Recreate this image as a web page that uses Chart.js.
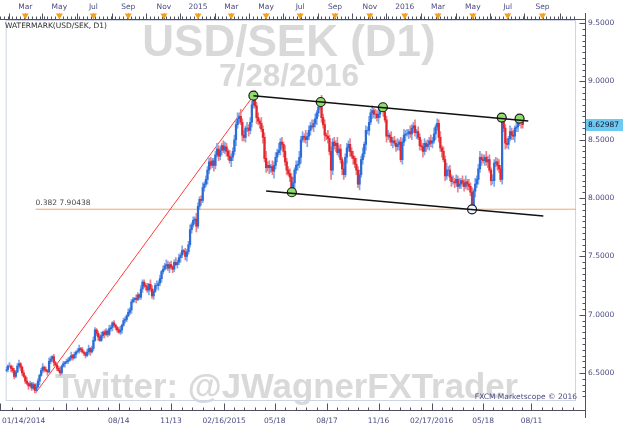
<!DOCTYPE html>
<html><head><meta charset="utf-8">
<script src="https://cdn.jsdelivr.net/npm/chart.js@4.4.1/dist/chart.umd.min.js"></script>
<style>html,body{margin:0;padding:0;background:#fff;overflow:hidden}canvas{display:block}</style>
</head><body>
<canvas id="c" width="624" height="428"></canvas>
<script>
// ---- texts ----
const title = 'USD/SEK (D1)';
const dateStamp = '7/28/2016';
const indicatorLabel = 'WATERMARK(USD/SEK, D1)';
const credit = 'Twitter: @JWagnerFXTrader';
const footer = 'FXCM Marketscope \u00A9 2016';

// ---- price data: trading-day index (0 = 1 Jan 2014), one candle per 2 trading days ----
const firstDay = 19, dayStep = 2, firstOpen = 6.52;
const closes = [
 6.53,6.56,6.56,6.54,6.52,6.47,6.51,6.56,6.58,6.55,
 6.50,6.47,6.43,6.41,6.39,6.41,6.37,6.40,6.35,6.38,
 6.43,6.48,6.52,6.55,6.53,6.52,6.51,6.60,6.62,6.64,
 6.59,6.57,6.54,6.52,6.50,6.56,6.58,6.59,6.60,6.61,
 6.63,6.65,6.63,6.66,6.68,6.69,6.71,6.70,6.68,6.67,
 6.65,6.68,6.71,6.68,6.71,6.78,6.87,6.84,6.81,6.78,
 6.82,6.85,6.83,6.86,6.83,6.88,6.89,6.93,6.91,6.89,
 6.87,6.85,6.87,6.91,6.95,6.96,6.99,7.02,7.04,7.11,
 7.13,7.14,7.13,7.17,7.15,7.22,7.28,7.25,
 7.24,7.21,7.26,7.22,7.16,7.20,7.25,7.25,7.27,7.31,
 7.37,7.39,7.42,7.43,7.40,7.43,7.41,7.39,7.45,7.43,
 7.45,7.49,7.51,7.55,7.54,7.50,7.54,7.60,7.73,7.77,
 7.81,7.82,7.76,7.93,7.99,7.98,8.09,8.12,8.16,8.24,
 8.31,8.28,8.32,8.28,8.37,8.42,8.36,8.41,8.45,8.41,
 8.44,8.40,8.36,8.32,8.35,8.40,
 8.50,8.63,8.68,8.70,8.65,8.54,8.52,8.60,8.60,8.58,
 8.65,8.80,8.87,8.79,8.69,8.66,8.64,8.59,8.52,8.34,
 8.26,8.28,8.26,8.27,8.23,8.28,8.35,8.39,8.41,8.48,
 8.46,8.40,8.31,8.24,8.21,8.18,8.07,8.13,8.24,8.28,
 8.29,8.35,8.50,8.53,8.52,8.50,8.53,8.58,8.62,8.61,
 8.64,8.68,8.73,8.78,8.83,8.69,8.63,8.54,8.53,8.51,
 8.40,8.24,8.48,
 8.45,8.47,8.39,8.42,8.33,8.25,8.20,8.35,8.43,8.46,
 8.40,8.36,8.34,8.29,8.24,8.12,8.20,8.33,8.38,8.46,
 8.58,8.58,8.65,8.73,8.75,8.72,8.72,8.69,8.72,8.78,
 8.78,8.74,8.67,8.53,8.54,8.52,8.48,8.49,8.47,8.44,
 8.46,8.48,8.33,8.48,8.54,8.55,8.55,8.57,8.55,8.60,
 8.62,8.56,8.57,8.52,8.45,8.44,8.40,8.47,8.44,8.46,
 8.49,8.47,
 8.49,8.55,8.61,8.64,8.52,8.43,8.40,8.33,8.19,8.24,
 8.24,8.18,8.14,8.14,8.13,8.16,8.10,8.12,8.15,8.13,
 8.10,8.14,8.12,8.10,8.05,7.92,8.06,8.12,8.16,8.25,
 8.35,8.33,8.32,8.35,8.31,8.33,8.24,8.15,8.15,8.30,
 8.31,8.28,8.25,8.16,8.67,8.60,8.47,8.46,8.51,8.57,
 8.54,8.53,8.60,8.61,8.65,8.68,8.65,8.62987
];
// wick lengths above / below each candle body, in hundredths of a krona
const upperWick = [
 2,1,3,1,2,2,1,2,3,1, 1,2,1,3,1,2,1,2,1,3, 2,1,2,3,1,2,1,3,2,1, 2,1,1,2,3,1,2,1,2,2,
 1,3,1,2,1,2,3,1,2,1, 1,2,3,1,2,3,2,1,2,2, 3,1,2,2,1,3,2,1,2,1, 1,2,3,1,2,2,1,3,2,2,
 2,1,3,2,1,3,2,2,
 2,3,1,4,3,2,2,4,2,3, 1,3,2,4,3,2,3,1,2,4, 2,3,2,4,1,3,2,3,4,2, 3,2,5,3,2,3,4,2,3,3,
 3,4,2,2,3,5,3,3,2,4, 4,3,2,5,3,3,
 4,3,5,3,6,3,4,2,5,3, 4,3,1,5,3,4,2,5,3,4, 6,3,4,2,5,3,4,3,6,3, 4,2,5,3,3,4,3,5,2,4,
 3,5,3,4,2,6,3,4,3,5, 3,4,2,3,1,5,3,4,2,5, 3,4,3,
 4,2,5,3,4,2,6,3,4,3, 5,3,4,2,5,3,4,3,5,2, 4,3,5,3,4,2,4,3,5,2, 2,3,5,3,4,2,5,3,4,3,
 5,2,4,3,5,3,4,2,5,3, 3,5,2,4,3,5,3,4,2,4, 3,5,
 3,5,2,4,3,5,2,4,3,6, 3,4,2,5,3,4,3,5,2,4, 3,5,2,4,3,4,2,5,3,4, 5,3,4,2,5,3,4,2,5,3,
 4,3,5,3,3,5,3,4,2,5, 3,4,2,5,3,2,3,3
];
const lowerWick = [
 1,2,1,3,2,2,1,1,2,3, 2,1,2,1,3,1,2,1,2,1, 1,3,1,2,2,1,3,1,2,2, 3,1,2,1,2,1,1,3,1,2,
 1,2,2,1,3,1,2,2,1,2, 2,1,2,3,1,2,1,2,3,1, 1,2,3,1,2,1,2,3,1,2, 2,1,2,3,1,2,2,1,2,3,
 1,2,3,1,2,2,3,2,
 3,2,4,2,2,3,1,3,4,2, 3,2,1,3,2,4,2,3,2,1, 3,2,4,2,2,3,4,2,2,3, 2,3,5,2,3,4,2,3,2,4,
 3,3,2,5,3,2,4,3,4,2, 3,4,3,2,5,3,
 3,5,3,4,2,5,3,4,3,5, 3,4,3,2,5,3,4,2,5,3, 4,3,5,4,3,6,3,4,2,4, 3,5,3,4,2,4,3,3,5,3,
 4,3,5,2,4,3,6,3,4,2, 4,3,5,3,2,4,3,5,3,4, 3,8,4,
 3,5,2,4,3,5,4,2,5,3, 4,2,5,3,4,3,5,2,4,3, 5,3,4,2,5,3,4,3,5,3, 3,4,2,5,3,4,3,5,2,4,
 3,5,2,4,3,5,2,4,3,5, 4,3,5,2,4,3,5,3,4,2, 5,3,
 4,2,5,3,4,3,5,2,4,3, 5,3,4,2,4,3,5,2,4,3, 4,2,5,3,3,2,3,5,3,4, 3,5,2,4,3,5,2,4,3,5,
 3,4,3,2,4,3,5,3,4,2, 4,3,5,3,4,3,5,3
];
const lastPrice = 8.62987;

// ---- axes ----
const monthStartDays = [0,23,43,64,86,108,129,152,173,195,218,238,261,283,303,325,347,368,390,413,434,456,478,499,522,543,564,587,608,630,652,673,696,718];
const topLabelDays = [43,86,129,173,218,261,303,347,390,434,478,522,564,608,652,696];
const topLabels = ['Mar','May','Jul','Sep','Nov','2015','Mar','May','Jul','Sep','Nov','2016','Mar','May','Jul','Sep'];
const bottomTickDays = [9,95,161,227,294,358,424,489,556,621,682];
const bottomLabels = ['01/14/2014','','08/14','11/13','02/16/2015','05/18','08/17','11/16','02/17/2016','05/18','08/11'];
const yTickValues = [6.5,7.0,7.5,8.0,8.5,9.0,9.5];
const xMin = 18.25, xMax = 738.25, yMin = 6.26, yMax = 9.527;

// ---- drawings ----
const fibRatio = '0.382', fibPrice = 7.90438, fibStartDay = 56;
const rallyDays = [56, 331], rallyPrices = [6.328, 8.878];
const upperDays = [331, 678], upperPrices = [8.878, 8.661];
const lowerDays = [347, 697], lowerPrices = [8.061, 7.846];
const topTouchDays = [331, 416, 494.5, 644.5, 667, 379.5];
const topTouchPrices = [8.878, 8.824, 8.779, 8.690, 8.681, 8.050];
const lowTouchDays = [607], lowTouchPrices = [7.904];

const BLUE = '#2b6cd8', RED = '#e3262d', BLUE_W = '#7ea8ec', RED_W = '#f07e83';
const AXIS_TXT = '#4b4b82', FONT = '"DejaVu Sans", Verdana, sans-serif';

const opens = closes.map((c, k) => k ? closes[k - 1] : firstOpen);
const bodies = closes.map((c, k) => ({ x: firstDay + dayStep * k, y: [opens[k], c] }));
const wicks = closes.map((c, k) => ({
  x: firstDay + dayStep * k,
  y: [Math.min(opens[k], c) - lowerWick[k] / 100, Math.max(opens[k], c) + upperWick[k] / 100],
  up: c >= opens[k]
}));
const pts = (d, p) => d.map((v, i) => ({ x: v, y: p[i] }));

const chrome = {
  id: 'chrome',
  beforeDatasetsDraw(chart) {
    const { ctx, chartArea: a } = chart;
    ctx.save();
    ctx.fillStyle = '#d9d9d9';
    ctx.textBaseline = 'alphabetic';
    ctx.textAlign = 'center';
    ctx.font = 'bold 44px "Liberation Sans", Arial, sans-serif';
    ctx.fillText(title, 289, 56);
    ctx.font = 'bold 31.5px "Liberation Sans", Arial, sans-serif';
    ctx.fillText(dateStamp, 289, 86);
    ctx.textAlign = 'left';
    ctx.font = 'bold 34.8px "Liberation Sans", Arial, sans-serif';
    ctx.fillText(credit, 55, 398);
    ctx.strokeStyle = '#cdd5e3'; ctx.lineWidth = 1;
    ctx.strokeRect(a.left + 0.5, a.top + 0.5, a.right - a.left - 1, a.bottom - a.top - 1);
    ctx.restore();
  },
  afterDraw(chart) {
    const { ctx, scales: { x, y } } = chart;
    ctx.save();
    ctx.strokeStyle = '#505060'; ctx.lineWidth = 1;
    const axX = 585.5, topY = 19.5, botY = 410.5;
    ctx.beginPath();
    // right axis
    ctx.moveTo(axX, 13); ctx.lineTo(axX, 418);
    for (let v = 6.3; v <= 9.52; v += 0.05) {
      const py = Math.round(y.getPixelForValue(v)) + 0.5;
      const major = Math.abs(v * 2 - Math.round(v * 2)) < 1e-6;
      ctx.moveTo(axX - (major ? 6 : 3), py); ctx.lineTo(axX, py);
    }
    // top axis
    ctx.moveTo(0, topY); ctx.lineTo(axX, topY);
    for (let d = 1; d < xMax; d += 5) {
      const px = Math.round(x.getPixelForValue(d)) + 0.5; if (px < 0) continue;
      ctx.moveTo(px, topY); ctx.lineTo(px, topY - 3);
    }
    monthStartDays.forEach(d => { const px = Math.round(x.getPixelForValue(d)) + 0.5; if (px < 0 || px > axX) return; ctx.moveTo(px, topY); ctx.lineTo(px, topY - 6); });
    // bottom axis
    ctx.moveTo(0, botY); ctx.lineTo(axX, botY);
    bottomTickDays.forEach((d, i) => {
      const px = Math.max(0.5, Math.round(x.getPixelForValue(d)) + 0.5);
      ctx.moveTo(px, botY); ctx.lineTo(px, botY - 7);
      const nd = bottomTickDays[i + 1] || d + 65;
      for (let j = 1; j < 5; j++) {
        const q = Math.round(x.getPixelForValue(d + (nd - d) * j / 5)) + 0.5;
        if (q < 0 || q > axX) continue;
        ctx.moveTo(q, botY); ctx.lineTo(q, botY - 3);
      }
    });
    ctx.stroke();
    // month triangles
    ctx.fillStyle = '#f5a020';
    topLabelDays.forEach(d => {
      const px = x.getPixelForValue(d);
      ctx.beginPath(); ctx.moveTo(px - 3.5, topY - 6); ctx.lineTo(px + 3.5, topY - 6); ctx.lineTo(px, topY); ctx.closePath(); ctx.fill();
    });
    // labels
    ctx.fillStyle = AXIS_TXT; ctx.font = '7.5px ' + FONT; ctx.textBaseline = 'middle';
    ctx.textAlign = 'center';
    topLabelDays.forEach((d, i) => ctx.fillText(topLabels[i], x.getPixelForValue(d), 7));
    bottomTickDays.forEach((d, i) => {
      const px = x.getPixelForValue(d);
      if (px < 20) { ctx.textAlign = 'left'; ctx.fillText(bottomLabels[i], 2, 421); ctx.textAlign = 'center'; }
      else ctx.fillText(bottomLabels[i], px, 421);
    });
    // indicator label, footer, fib text
    ctx.fillStyle = '#2a2a2a'; ctx.textAlign = 'left';
    ctx.fillText(indicatorLabel, 5, 26);
    ctx.fillStyle = '#4a4a4a';
    ctx.fillText(fibRatio + ' ' + fibPrice.toFixed(5), x.getPixelForValue(fibStartDay), y.getPixelForValue(fibPrice) - 6);
    ctx.fillStyle = AXIS_TXT; ctx.textAlign = 'right';
    ctx.fillText(footer, 577, 397);
    // last price tag
    const ly = y.getPixelForValue(lastPrice);
    ctx.fillStyle = '#6dcbf2'; ctx.fillRect(586, Math.round(ly) - 6, 37, 12);
    ctx.fillStyle = '#101030'; ctx.textAlign = 'left';
    ctx.fillText(lastPrice.toFixed(5), 588, ly);
    ctx.restore();
  }
};

new Chart(document.getElementById('c'), {
  type: 'bar',
  data: {
    datasets: [
      { type: 'line', data: pts(upperDays, upperPrices), borderColor: '#111', borderWidth: 1.5, pointRadius: 0, order: 0 },
      { type: 'line', data: pts(lowerDays, lowerPrices), borderColor: '#111', borderWidth: 1.5, pointRadius: 0, order: 0 },
      { type: 'scatter', data: pts(topTouchDays, topTouchPrices), pointRadius: 4.5, pointBackgroundColor: '#8fde6c', pointBorderColor: '#1a1a1a', pointBorderWidth: 1.2, order: 1 },
      { type: 'scatter', data: pts(lowTouchDays, lowTouchPrices), pointRadius: 4.5, pointBackgroundColor: '#eef7ff', pointBorderColor: '#1a1a1a', pointBorderWidth: 1.2, order: 1 },
      { type: 'line', data: pts(rallyDays, rallyPrices), borderColor: '#ff3b3b', borderWidth: 1, pointRadius: 0, order: 4 },
      { type: 'line', data: [{ x: fibStartDay, y: fibPrice }, { x: xMax, y: fibPrice }], borderColor: '#f5a465', borderWidth: 1, pointRadius: 0, order: 5 },
      { type: 'bar', data: bodies, grouped: false, barPercentage: 1, categoryPercentage: 1,
        backgroundColor: c => (c.raw && c.raw.y[1] >= c.raw.y[0]) ? BLUE : RED, borderWidth: 0, order: 2 },
      { type: 'bar', data: wicks, grouped: false, barThickness: 1,
        backgroundColor: c => (c.raw && c.raw.up) ? BLUE_W : RED_W, borderWidth: 0, order: 3 }
    ]
  },
  options: {
    responsive: false, animation: false, devicePixelRatio: 1,
    layout: { padding: { top: 20, bottom: 27, left: 0, right: 0 } },
    plugins: { legend: { display: false }, tooltip: { enabled: false } },
    scales: {
      x: { type: 'linear', min: xMin, max: xMax, offset: false, display: false },
      y: { type: 'linear', position: 'right', min: yMin, max: yMax,
        afterFit(s) { s.width = 48; },
        afterBuildTicks(s) { s.ticks = yTickValues.map(v => ({ value: v })); },
        grid: { display: false, drawTicks: false }, border: { display: false },
        ticks: { padding: 12, color: AXIS_TXT, font: { family: '"DejaVu Sans"', size: 7.5 }, callback: v => v.toFixed(4) } }
    }
  },
  plugins: [chrome]
});
</script>
</body></html>
